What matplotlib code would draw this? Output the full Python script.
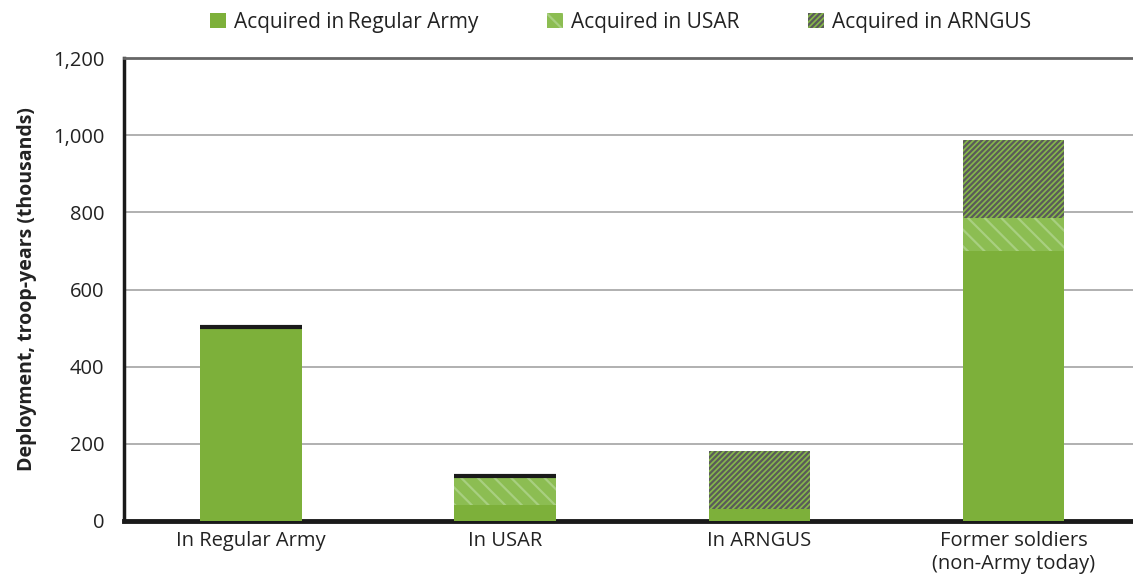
import matplotlib.pyplot as plt
import numpy as np

plt.rcParams["font.family"] = ["Open Sans", "DejaVu Sans"]
plt.rcParams["hatch.linewidth"] = 1.6

categories = ["In Regular Army", "In USAR", "In ARNGUS", "Former soldiers\n(non-Army today)"]
acq_regular = [503, 42, 31, 700]
acq_usar = [0, 74, 0, 85]
acq_arngus = [0, 0, 150, 203]
# bars topped with a thin dark cap in the original
capped = [True, True, False, False]

green = "#7DB03A"
x = np.arange(len(categories))
w = 0.4

fig = plt.figure(figsize=(11.33, 5.79), dpi=100)
ax = fig.add_axes([0.1095, 0.1002, 0.8905, 0.7996])

ax.bar(x, acq_regular, w, color=green, linewidth=0, label="Acquired in\u2009Regular Army", zorder=3)
b1 = np.array(acq_regular)
ax.bar(x, acq_usar, w, bottom=b1, facecolor="#8CBD52", edgecolor="#A8CF80",
       hatch="\\\\", linewidth=0, label="Acquired in USAR", zorder=3)
b2 = b1 + np.array(acq_usar)
ax.bar(x, acq_arngus, w, bottom=b2, facecolor="#86B74A", edgecolor="#5A5A5A",
       hatch="//////", linewidth=0, label="Acquired in ARNGUS", zorder=3)
tops = b2 + np.array(acq_arngus)

for xi, t, c in zip(x, tops, capped):
    if c:
        ax.plot([xi - w / 2, xi + w / 2], [t, t], color="#1a1a1a", lw=3,
                solid_capstyle="butt", zorder=4)

ax.set_xlim(-0.5, 3.47)
ax.set_ylim(0, 1200)
ax.set_yticks(range(0, 1201, 200))
ax.set_yticklabels([f"{v:,}" for v in range(0, 1201, 200)])
ax.set_xticks(x)
ax.set_xticklabels(categories)
ax.tick_params(axis="both", length=0, labelsize=14.5, colors="#222222", pad=7)
ax.tick_params(axis="y", pad=14)

ax.grid(axis="y", color="#AAAAAA", linewidth=1.3, zorder=0)
ax.set_axisbelow(True)
ax.spines["right"].set_visible(False)
ax.spines["top"].set_color("#666666")
ax.spines["top"].set_linewidth(2)
ax.spines["left"].set_color("#1a1a1a")
ax.spines["left"].set_linewidth(2.5)
ax.spines["bottom"].set_color("#1a1a1a")
ax.spines["bottom"].set_linewidth(3.5)

ax.set_ylabel("Deployment, troop-years (thousands)", fontsize=14, fontweight="bold",
              color="#222222", labelpad=12)

fig.legend(loc="upper center", bbox_to_anchor=(0.548, 1.012), ncol=3, frameon=False,
           fontsize=15, handlelength=0.75, handleheight=0.75, handletextpad=0.4,
           columnspacing=3.3, labelcolor="#222222")

fig.savefig("out.png", dpi=100)
